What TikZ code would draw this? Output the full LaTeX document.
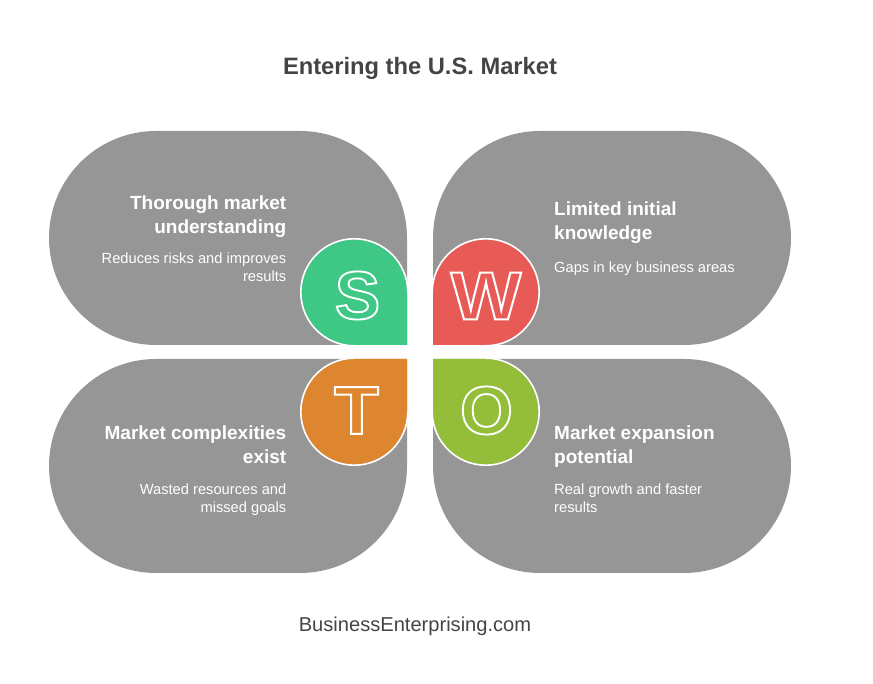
\documentclass[tikz,border=0pt]{standalone}
\usepackage{fontspec}
\setmainfont{Liberation Sans}
\usepackage{graphicx}
\usepackage{tikz}
\usetikzlibrary{positioning}
\definecolor{cardgray}{HTML}{969696}
\definecolor{inkgray}{HTML}{444444}
\definecolor{sgreen}{HTML}{3EC785}
\definecolor{wred}{HTML}{E85A55}
\definecolor{torange}{HTML}{DE852F}
\definecolor{ogreen}{HTML}{94BD3A}
\tikzset{
	heading/.style={inner sep=0pt, text=white, font=\fontsize{19}{24}\selectfont\bfseries},
	subtext/.style={inner sep=0pt, text=white, font=\fontsize{14.7}{18}\selectfont},
	letter/.style={inner sep=0pt, text=white, font=\fontsize{68}{70}\selectfont\bfseries},
}
% letters are stroked, not filled
\newcommand{\Hollow}[1]{\special{pdf:code q 1 Tr 1.9 w}#1\special{pdf:code Q}}
\newcommand{\SwotQuarter}[4]{
	\def\lpin{#1}
	\def\lxs{#2}
	\def\lys{#3}
	\def\lfill{#4}
	\def\R{107}
	\def\r{52.7}
	\def\rs{53.5}
	\begin{scope}[shift={(\lpin)}, xscale=\lxs, yscale=\lys]
		\fill[cardgray] (0,0) -- (-251,0) arc (270:90:\R) -- (-\R,214) arc (90:0:\R) -- cycle;
		\fill[\lfill] (0,0) -- (-\r,0) arc (270:0:\r) -- cycle;
		\draw[white, line width=1.6pt] (-\r,-0.8) arc (270:0:\rs);
	\end{scope}
}

\begin{document}
\begin{tikzpicture}[x=1pt, y=1pt]
	\useasboundingbox (0,0) rectangle (873,684);

	\coordinate (SC) at (407,339);
	\coordinate (WC) at (433,339);
	\coordinate (TC) at (407,325);
	\coordinate (OC) at (433,325);

	\SwotQuarter{SC}{1}{1}{sgreen}
	\SwotQuarter{WC}{-1}{1}{wred}
	\SwotQuarter{TC}{1}{-1}{torange}
	\SwotQuarter{OC}{-1}{-1}{ogreen}

	\node[letter] (S) at (357.5,388.5) {\Hollow{S}};
	\node[letter] (W) at (486,388) {\Hollow{\scalebox{1.1}[1]{W}}};
	\node[letter] (T) at (356.5,273.5) {\Hollow{\scalebox{1.08}[1]{T}}};
	\node[letter] (O) at (486.5,273.5) {\Hollow{O}};

	\node[font=\fontsize{23.7}{28}\selectfont\bfseries, text=inkgray] (title) at (420,616) {Entering the U.S. Market};
	\node[font=\fontsize{20.1}{24}\selectfont, text=inkgray] (footer) at (415,58) {BusinessEnterprising.com};

	\node[heading, align=right, anchor=north east] (Shead) at (286.5,488.3) {Thorough market\\understanding};
	\node[subtext, align=right, anchor=north east] (Ssub) at (286.5,431) {Reduces risks and improves\\results};

	\node[heading, align=left, anchor=north west] (Whead) at (554,482.3) {Limited initial\\knowledge};
	\node[subtext, align=left, anchor=north west] (Wsub) at (554,422) {Gaps in key business areas};

	\node[heading, align=right, anchor=north east] (Thead) at (286.5,258.3) {Market complexities\\exist};
	\node[subtext, align=right, anchor=north east] (Tsub) at (286.5,200) {Wasted resources and\\missed goals};

	\node[heading, align=left, anchor=north west] (Ohead) at (554,258.3) {Market expansion\\potential};
	\node[subtext, align=left, anchor=north west] (Osub) at (554,200) {Real growth and faster\\results};
\end{tikzpicture}
\end{document}
